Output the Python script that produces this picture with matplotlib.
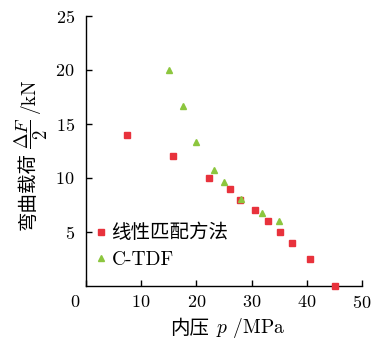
import matplotlib.pyplot as plt
from matplotlib.transforms import ScaledTranslation

plt.rcParams['font.family'] = ['cmr10', 'Noto Sans CJK SC']
plt.rcParams['mathtext.fontset'] = 'cm'
plt.rcParams['axes.formatter.use_mathtext'] = True

# Linear matching method: internal pressure (MPa) vs bending load (kN)
linear_p = [7.5, 15.7, 22.2, 26.1, 27.9, 30.6, 32.9, 35.2, 37.4, 40.5, 45.1]
linear_f = [14.0, 12.0, 10.0, 9.0, 8.0, 7.0, 6.0, 5.0, 4.0, 2.5, 0.0]

# C-TDF results
ctdf_p = [15.0, 17.5, 20.0, 23.1, 25.0, 28.0, 31.9, 34.9]
ctdf_f = [20.0, 16.7, 13.3, 10.7, 9.6, 8.1, 6.8, 6.0]

x_ticks = [0, 10, 20, 30, 40, 50]
y_ticks = [5, 10, 15, 20, 25]

red = '#e8323c'
green = '#8cc63e'

W, H = 372, 341
fig = plt.figure(figsize=(W / 100, H / 100), dpi=100)
ax = fig.add_axes([86 / W, 1 - 286 / H, 276 / W, 270 / H])

ax.plot(linear_p, linear_f, 's', color=red, markersize=4.6, linestyle='none',
        label='线性匹配方法', clip_on=False, zorder=3)
ax.plot(ctdf_p, ctdf_f, '^', color=green, markersize=4.8, linestyle='none',
        label='C-TDF', clip_on=False, zorder=4)

ax.set_xlim(0, 50)
ax.set_ylim(0, 25)
ax.set_xticks(x_ticks)
ax.set_yticks(y_ticks)
ax.tick_params(direction='in', length=4, width=1, labelsize=13)
ax.tick_params(axis='x', pad=6)
ax.tick_params(axis='y', pad=8)

# the origin label sits a little left of the corner
lbl0 = ax.get_xticklabels()[0]
lbl0.set_transform(lbl0.get_transform() + ScaledTranslation(-0.11, 0, fig.dpi_scale_trans))

for side in ('top', 'right'):
    ax.spines[side].set_visible(False)
for side in ('left', 'bottom'):
    ax.spines[side].set_linewidth(1)

# axis titles assembled from pieces so the CJK text gets its own font
def px(x, y):
    return x / W, 1 - y / H

fig.text(*px(190, 328), '内压', fontsize=14, ha='center', va='center',
         family='Noto Sans CJK SC')
fig.text(*px(216, 328), '$p$ /MPa', fontsize=14, ha='left', va='center')

fig.text(*px(28, 191), '弯曲载荷', fontsize=14, rotation=90,
         ha='center', va='center', family='Noto Sans CJK SC')
fig.text(*px(31, 133), r'$\dfrac{\Delta F}{2}$', fontsize=13.5, rotation=90,
         ha='center', va='center')
fig.text(*px(30, 96), '/kN', fontsize=14, rotation=90,
         ha='center', va='center')

ax.legend(loc='upper left', bbox_to_anchor=px(97, 224), bbox_transform=fig.transFigure,
          frameon=False, fontsize=14, handlelength=0.4, handletextpad=0.35,
          labelspacing=0.42, borderpad=0, borderaxespad=0)

fig.savefig('out.png', dpi=100)
